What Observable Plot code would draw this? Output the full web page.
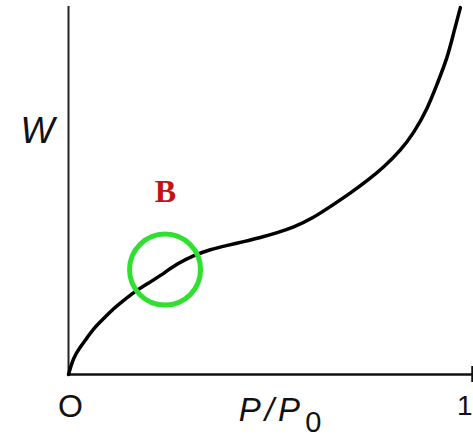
<!DOCTYPE html>
<html>
<head>
<meta charset="utf-8">
<script src="https://cdn.jsdelivr.net/npm/d3@7"></script>
<script src="https://cdn.jsdelivr.net/npm/@observablehq/plot@0.6"></script>
<style>
  html, body { margin: 0; padding: 0; background: #fff; overflow: hidden; }
  g[aria-description="xlabel"] text { letter-spacing: 4px; }
</style>
</head>
<body>
<div id="chart"></div>
<script>
// Relative pressure P/P0 (0..1) and adsorbed amount W (arbitrary units, 0..1)
const pRel = [0, 0.012, 0.030, 0.047, 0.062, 0.087, 0.111, 0.136, 0.161, 0.196, 0.228, 0.270, 0.309, 0.351, 0.394, 0.433, 0.475, 0.517, 0.557, 0.599, 0.656, 0.698, 0.740, 0.780, 0.822, 0.854, 0.889, 0.913, 0.938, 0.953, 0.970];
const wAds = [0, 0.046, 0.076, 0.101, 0.125, 0.152, 0.179, 0.201, 0.223, 0.247, 0.269, 0.302, 0.323, 0.340, 0.351, 0.361, 0.372, 0.385, 0.400, 0.421, 0.462, 0.493, 0.527, 0.563, 0.609, 0.655, 0.723, 0.791, 0.861, 0.927, 0.997];

// Point B (monolayer completion) highlighted
const pointB = [{p: 0.239, w: 0.285}];
const pointBLabel = [{p: 0.240, w: 0.496, text: "B"}];

// Axis texts
const yLabel = [{p: -0.077, w: 0.66, text: "W"}];
const originLabel = [{p: 0.005, w: -0.087, text: "O"}];
const xLabelMain = [{p: 0.502, w: -0.098, text: "P/P"}];
const xLabelSub = [{p: 0.606, w: -0.132, text: "0"}];
const xEndLabel = [{p: 1.0, w: -0.085, text: "1"}];

const curve = pRel.map((p, i) => ({p, w: wAds[i]}));

const chart = Plot.plot({
  width: 473,
  height: 437,
  marginLeft: 68,
  marginRight: 1,
  marginTop: 6,
  marginBottom: 63,
  x: {domain: [0, 1], axis: null},
  y: {domain: [0, 1], axis: null},
  style: {background: "#fff", overflow: "visible"},
  marks: [
    Plot.ruleX([0], {y1: 0, y2: 1, stroke: "#222", strokeWidth: 2}),
    Plot.ruleY([0], {x1: 0, x2: 1, stroke: "#111", strokeWidth: 2.5}),
    Plot.ruleX([1], {y1: -0.022, y2: 0.022, stroke: "#111", strokeWidth: 2.5}),
    Plot.line(curve, {x: "p", y: "w", curve: "basis", stroke: "#000", strokeWidth: 3.5}),
    Plot.dot(pointB, {x: "p", y: "w", r: 35.5, stroke: "#2fe02f", strokeWidth: 5, fill: "none"}),
    Plot.text(pointBLabel, {x: "p", y: "w", text: "text", fontFamily: "Liberation Serif", fontWeight: "bold", fontSize: 32, fill: "#c21414"}),
    Plot.text(yLabel, {x: "p", y: "w", text: "text", fontFamily: "Liberation Sans", fontStyle: "italic", fontSize: 36, fill: "#111"}),
    Plot.text(originLabel, {x: "p", y: "w", text: "text", fontFamily: "Liberation Sans", fontSize: 32, fill: "#111"}),
    Plot.text(xLabelMain, {x: "p", y: "w", text: "text", fontFamily: "Liberation Sans", fontStyle: "italic", fontSize: 33, fill: "#111", ariaDescription: "xlabel"}),
    Plot.text(xLabelSub, {x: "p", y: "w", text: "text", fontFamily: "Liberation Sans", fontSize: 29, fill: "#111"}),
    Plot.text(xEndLabel, {x: "p", y: "w", text: "text", textAnchor: "end", fontFamily: "Liberation Sans", fontSize: 28, fill: "#111"})
  ]
});
document.getElementById("chart").appendChild(chart);
</script>
</body>
</html>
